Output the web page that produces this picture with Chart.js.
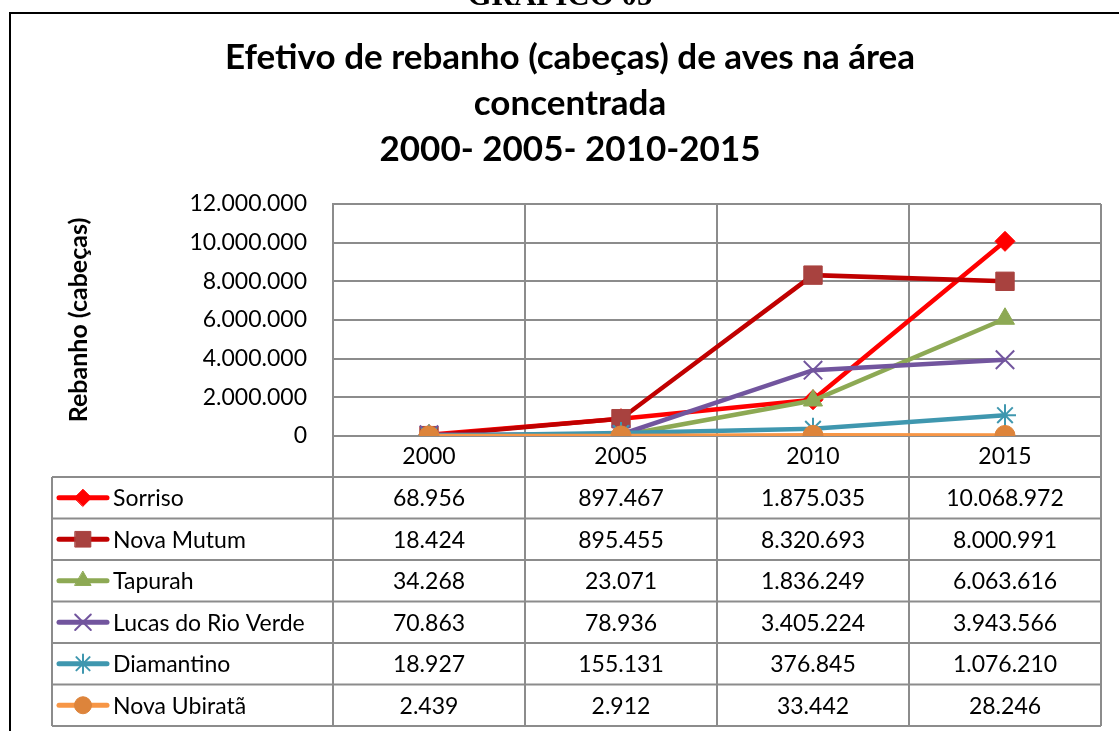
<!DOCTYPE html>
<html>
<head>
<meta charset="utf-8">
<script src="https://cdn.jsdelivr.net/npm/chart.js@4"></script>
<style>
  body { margin: 0; background: #fff; }
  #wrap { width: 1119px; height: 731px; position: relative; }
</style>
</head>
<body>
<div id="wrap"><canvas id="aves"></canvas></div>
<script>
const years = ['2000', '2005', '2010', '2015']
const titleLines = ['Efetivo de rebanho (cabeças) de aves na área', 'concentrada', '2000- 2005- 2010-2015']

const sorriso = [68956, 897467, 1875035, 10068972]
const novaMutum = [18424, 895455, 8320693, 8000991]
const tapurah = [34268, 23071, 1836249, 6063616]
const lucasRioVerde = [70863, 78936, 3405224, 3943566]
const diamantino = [18927, 155131, 376845, 1076210]
const novaUbirata = [2439, 2912, 33442, 28246]

const fmt = v => String(Math.round(v)).replace(/\B(?=(\d{3})+(?!\d))/g, '.')
const FONT = 'Lato, "Open Sans", sans-serif'

function serie(label, data, line, marker, style, radius) {
  return {
    label: label,
    data: data,
    borderColor: line,
    backgroundColor: marker,
    pointBackgroundColor: marker,
    pointBorderColor: marker,
    pointStyle: style,
    pointRadius: radius,
    pointBorderWidth: (style === 'crossRot' || style === 'star') ? 2 : 1,
    borderWidth: 4.5,
    tension: 0
  }
}

const datasets = [
  serie('Sorriso', sorriso, '#FF0000', '#FF0000', 'rectRot', 10),
  serie('Nova Mutum', novaMutum, '#C00000', '#A8423F', 'rect', 13),
  serie('Tapurah', tapurah, '#8DA954', '#8DA954', 'triangle', 11),
  serie('Lucas do Rio Verde', lucasRioVerde, '#72559E', '#72559E', 'crossRot', 13),
  serie('Diamantino', diamantino, '#3F97AF', '#3F97AF', 'star', 11),
  serie('Nova Ubiratã', novaUbirata, '#F79646', '#DD843B', 'circle', 10)
]
// Excel draws later series on top
datasets.forEach((d, i) => { d.order = datasets.length - i })

const ROW_H = 41.5
const GRID = '#8C8C8C'

const moldura = {
  id: 'moldura',
  beforeDraw(chart) {
    const c = chart.ctx
    c.save()
    c.fillStyle = '#fff'
    c.fillRect(0, 0, chart.width, chart.height)
    c.fillStyle = '#000'
    c.font = 'bold 31px "Liberation Serif", serif'
    c.textAlign = 'center'
    c.textBaseline = 'alphabetic'
    c.fillText('GRÁFICO 05', 560, 5)
    c.strokeStyle = '#000'
    c.lineWidth = 2
    c.strokeRect(10, 13, 1200, 800)
    c.font = 'bold 35px ' + FONT
    c.textBaseline = 'middle'
    titleLines.forEach((t, i) => c.fillText(t, 570, 58 + i * 46))
    c.restore()
  },
  afterDraw(chart) {
    const c = chart.ctx
    const x = chart.scales.x
    const area = chart.chartArea
    const top = area.bottom + 41
    const left = 52
    const n = datasets.length
    const half = (x.getPixelForValue(1) - x.getPixelForValue(0)) / 2
    c.save()
    c.strokeStyle = GRID
    c.lineWidth = 2
    // vertical lines through header + table
    c.beginPath()
    c.moveTo(x.left, area.bottom); c.lineTo(x.left, top + n * ROW_H)
    years.forEach((y, i) => {
      const b = x.getPixelForValue(i) + half
      c.moveTo(b, area.bottom); c.lineTo(b, top + n * ROW_H)
    })
    c.moveTo(left, top); c.lineTo(left, top + n * ROW_H)
    for (let r = 0; r <= n; r++) {
      c.moveTo(left, top + r * ROW_H); c.lineTo(x.right, top + r * ROW_H)
    }
    c.stroke()

    c.font = '23px ' + FONT
    c.textBaseline = 'middle'
    chart.data.datasets.forEach((d, r) => {
      const cy = top + r * ROW_H + ROW_H / 2
      c.strokeStyle = d.borderColor
      c.lineWidth = 5
      c.lineCap = 'round'
      c.beginPath(); c.moveTo(59, cy); c.lineTo(107, cy); c.stroke()
      c.fillStyle = d.pointBackgroundColor
      c.strokeStyle = d.pointBorderColor
      c.lineWidth = d.pointBorderWidth
      Chart.helpers.drawPoint(c, {
        pointStyle: d.pointStyle, radius: d.pointRadius * 0.85, rotation: 0,
        borderWidth: d.pointBorderWidth
      }, 83, cy)
      c.fillStyle = '#000'
      c.textAlign = 'left'
      c.fillText(d.label, 113, cy + 1)
      c.textAlign = 'center'
      d.data.forEach((v, i) => c.fillText(fmt(v), x.getPixelForValue(i), cy + 1))
    })
    c.restore()
  }
}

new Chart(document.getElementById('aves').getContext('2d'), {
  type: 'line',
  data: { labels: years, datasets: datasets },
  plugins: [moldura],
  options: {
    responsive: true,
    maintainAspectRatio: false,
    animation: false,
    layout: { padding: { left: 60, top: 204, right: 18, bottom: 254 } },
    plugins: { legend: { display: false }, tooltip: { enabled: false } },
    scales: {
      x: {
        offset: true,
        afterFit(s) { s.height = 41 },
        grid: { offset: true, color: GRID, lineWidth: 2, drawTicks: false },
        border: { color: GRID, width: 2 },
        ticks: { color: '#000', padding: 7, font: { family: FONT, size: 23 } }
      },
      y: {
        min: 0,
        max: 12000000,
        afterFit(s) { s.width = 273 },
        grid: { color: GRID, lineWidth: 2, drawTicks: false },
        border: { color: GRID, width: 2 },
        ticks: {
          stepSize: 2000000,
          color: '#000',
          padding: 26,
          font: { family: FONT, size: 23 },
          callback: v => fmt(v)
        },
        title: {
          display: true,
          text: 'Rebanho (cabeças)',
          color: '#000',
          font: { family: FONT, size: 25, weight: 'bold' }
        }
      }
    }
  }
})
</script>
</body>
</html>
